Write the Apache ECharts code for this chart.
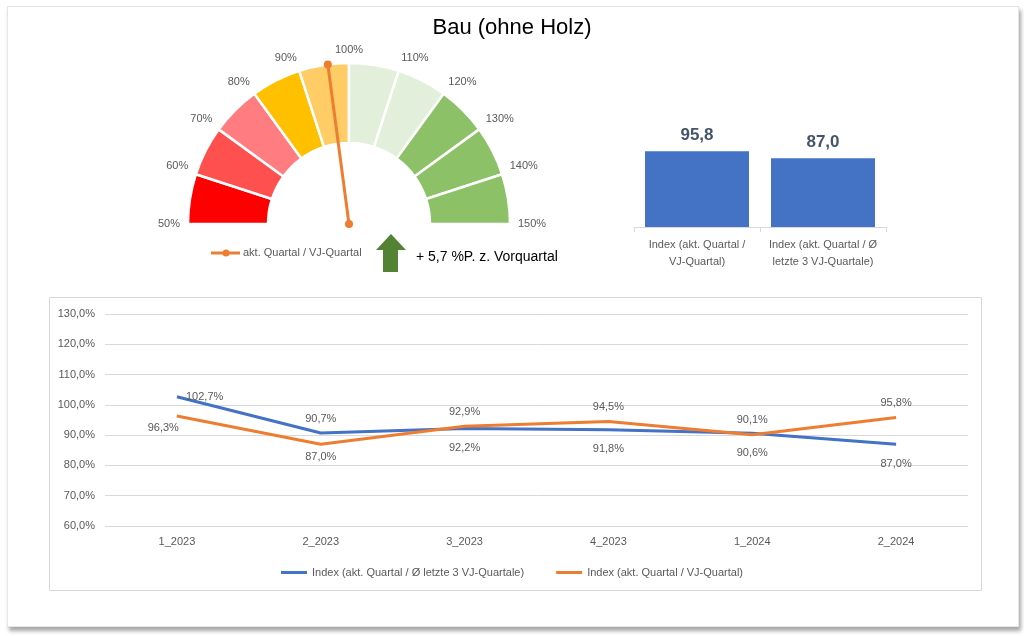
<!DOCTYPE html>
<html><head><meta charset="utf-8">
<script src="https://cdn.jsdelivr.net/npm/echarts@6/dist/echarts.min.js"></script>
<style>
html,body{margin:0;padding:0;background:#fff;}
#card{position:absolute;left:7px;top:6px;width:1010px;height:619px;background:#fff;border:1px solid #e6e6e6;box-shadow:2px 4px 4px rgba(0,0,0,0.35);}
#chart{position:absolute;left:0;top:0;width:1024px;height:636px;}
</style></head>
<body><div id="card"></div><div id="chart"></div>
<script>
// ---- data ----
const title = 'Bau (ohne Holz)';
const gaugeSegments = [10,10,10,10,10,10,10,10,10,10];          // 50%..150%
const gaugeColors = ['#FF0000','#FF5050','#FF7C80','#FFC000','#FFCC66','#E2EFDA','#E2EFDA','#8CC168','#8CC168','#8CC168'];
const gaugeMin = 50, gaugeMax = 150;
const needleValue = 95.8;
const needleName = 'akt. Quartal / VJ-Quartal';
const changeText = '+ 5,7 %P. z. Vorquartal';

const barCategories = ['Index (akt. Quartal /\nVJ-Quartal)', 'Index (akt. Quartal / Ø\nletzte 3 VJ-Quartale)'];
const barValues = [95.8, 87.0];

const quarters = ['1_2023','2_2023','3_2023','4_2023','1_2024','2_2024'];
const seriesBlueName = 'Index (akt. Quartal / Ø letzte 3 VJ-Quartale)';
const seriesBlue = [102.7, 90.7, 92.2, 91.8, 90.6, 87.0];
const seriesOrangeName = 'Index (akt. Quartal / VJ-Quartal)';
const seriesOrange = [96.3, 87.0, 92.9, 94.5, 90.1, 95.8];
const bluePos = ['right','top','bottom','bottom','bottom','bottom'];
const orangePos = ['left','bottom','top','top','top','top'];

const FONT = "'Liberation Sans', Arial, sans-serif";
const GREY = '#595959';
const fmtPct1 = v => v.toFixed(1).replace('.', ',') + '%';

const chart = echarts.init(document.getElementById('chart'), null, {renderer:'canvas'});

const pieData = gaugeSegments.map((v,i)=>({value:v, itemStyle:{color:gaugeColors[i]}}));
const segTotal = gaugeSegments.reduce((a,b)=>a+b,0);
pieData.push({value:segTotal, itemStyle:{color:'rgba(0,0,0,0)', borderWidth:0}, emphasis:{disabled:true}});

chart.setOption({
  animation:false,
  textStyle:{fontFamily:FONT},
  title:{text:title, left:'center', top:12, textStyle:{fontFamily:FONT, fontSize:22, fontWeight:'normal', color:'#000'}},
  polar:{center:[349,224], radius:161},
  angleAxis:{
    type:'value', startAngle:180, clockwise:true, min:gaugeMin, max:gaugeMin+2*(gaugeMax-gaugeMin), interval:10,
    axisLine:{show:false}, axisTick:{show:false}, splitLine:{show:false},
    axisLabel:{margin:8, fontFamily:FONT, fontSize:11, color:GREY, formatter:v => v<=gaugeMax ? v+'%' : ''}
  },
  radiusAxis:{type:'value', min:0, max:1, show:false, axisLine:{show:false}, axisLabel:{show:false}, splitLine:{show:false}, axisTick:{show:false}},
  grid:[
    {left:634, right:138, top:132, bottom:409},
    {left:105, right:56, top:314, bottom:110}
  ],
  xAxis:[
    {gridIndex:0, type:'category', data:barCategories,
     axisLine:{lineStyle:{color:'#D9D9D9'}}, axisTick:{show:true, length:5, lineStyle:{color:'#D9D9D9'}},
     axisLabel:{margin:9, fontFamily:FONT, fontSize:11, color:GREY, lineHeight:17, interval:0}},
    {gridIndex:1, type:'category', data:quarters, boundaryGap:true,
     axisLine:{show:false}, axisTick:{show:false},
     axisLabel:{margin:10, fontFamily:FONT, fontSize:11, color:GREY}}
  ],
  yAxis:[
    {gridIndex:0, type:'value', min:0, max:120, show:false, splitLine:{show:false}},
    {gridIndex:1, type:'value', min:60, max:130, interval:10,
     axisLine:{show:false}, axisTick:{show:false},
     splitLine:{lineStyle:{color:'#D9D9D9', width:1}},
     axisLabel:{margin:10, fontFamily:FONT, fontSize:11, color:GREY, formatter:fmtPct1}}
  ],
  legend:{
    data:[seriesBlueName, seriesOrangeName], left:'center', top:562,
    icon:'rect', itemWidth:26, itemHeight:3, itemGap:32,
    textStyle:{fontFamily:FONT, fontSize:11, color:GREY}
  },
  series:[
    {type:'pie', center:[349,224], radius:[81,161], startAngle:180, clockwise:true, silent:true,
     label:{show:false}, labelLine:{show:false}, itemStyle:{borderColor:'#fff', borderWidth:2.5}, data:pieData, z:1},
    {type:'line', name:needleName, coordinateSystem:'polar', data:[[0,needleValue],[1,needleValue]],
     symbol:'circle', symbolSize:8, showSymbol:true, lineStyle:{color:'#ED7D31', width:3}, itemStyle:{color:'#ED7D31'}, z:5, silent:true},
    {type:'bar', xAxisIndex:0, yAxisIndex:0, data:barValues, barWidth:104,
     itemStyle:{color:'#4472C4'},
     label:{show:true, position:'top', distance:7, fontFamily:FONT, fontSize:17, fontWeight:'bold', color:'#44546A',
            formatter:p => p.value.toFixed(1).replace('.', ',')}},
    {type:'line', name:seriesBlueName, xAxisIndex:1, yAxisIndex:1, showSymbol:true, symbol:'circle', symbolSize:0.1,
     lineStyle:{color:'#4472C4', width:3}, itemStyle:{color:'#4472C4'},
     data:seriesBlue.map((v,i)=>({value:v, label:{position:bluePos[i], distance: bluePos[i]==='bottom' ? 14 : 9}})),
     label:{show:true, distance:9, fontFamily:FONT, fontSize:11, color:GREY, formatter:p=>fmtPct1(p.value)}},
    {type:'line', name:seriesOrangeName, xAxisIndex:1, yAxisIndex:1, showSymbol:true, symbol:'circle', symbolSize:0.1,
     lineStyle:{color:'#ED7D31', width:3}, itemStyle:{color:'#ED7D31'},
     data:seriesOrange.map((v,i)=>({value:v, label:{position:orangePos[i], offset: orangePos[i]==='left' ? [11,12] : [0,0], distance: orangePos[i]==='bottom' ? 7 : 9}})),
     label:{show:true, distance:9, fontFamily:FONT, fontSize:11, color:GREY, formatter:p=>fmtPct1(p.value)}}
  ],
  graphic:[
    {type:'rect', shape:{x:49.5, y:297.5, width:932, height:293}, style:{fill:'none', stroke:'#D9D9D9', lineWidth:1}, z:-1, silent:true},
    {type:'group', children:[
      {type:'line', shape:{x1:211, y1:253, x2:240, y2:253}, style:{stroke:'#ED7D31', lineWidth:3}},
      {type:'circle', shape:{cx:226, cy:253, r:3.5}, style:{fill:'#ED7D31'}},
      {type:'text', x:243, y:253, style:{text:needleName, fontFamily:FONT, fontSize:11, fill:GREY, verticalAlign:'middle'}}
    ]},
    {type:'polygon', shape:{points:[[391,234],[406,250],[398,250],[398,272],[383,272],[383,250],[376,250]]}, style:{fill:'#548235'}},
    {type:'text', x:416, y:257, style:{text:changeText, fontFamily:FONT, fontSize:14, fill:'#000', verticalAlign:'middle'}}
  ]
});
</script></body></html>
